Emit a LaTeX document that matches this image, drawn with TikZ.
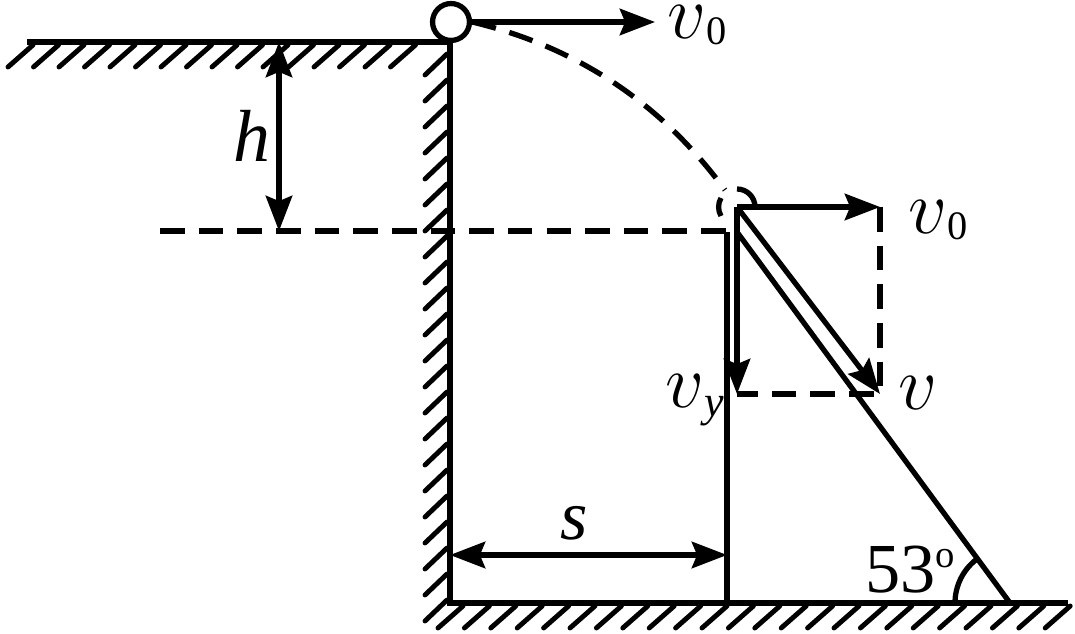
\documentclass[tikz,border=0pt]{standalone}
\usepackage{fontspec}
\setmainfont{Liberation Serif}
\usetikzlibrary{arrows.meta, positioning, calc}
\tikzset{
	heavy/.style={line width=3pt},
	hatch/.style={line width=2.8pt, line cap=round},
	vec/.style={heavy, -{Stealth[length=20pt,width=15pt,inset=3pt]}},
	dimen/.style={heavy, {Stealth[length=20pt,width=15pt,inset=3pt]}-{Stealth[length=20pt,width=15pt,inset=3pt]}},
	guide/.style={heavy, dash pattern=on 14pt off 8pt},
	label/.style={inner sep=0pt, anchor=base west, font=\fontsize{38}{38}\selectfont},
}
\newcommand{\vel}{\scalebox{1.75}{$v$}}
\newcommand{\zerosub}{\raisebox{-3pt}{\fontsize{23}{23}\selectfont 0}}
\begin{document}
\begin{tikzpicture}[x=0.02cm, y=-0.02cm]
	\useasboundingbox (0,0) rectangle (1075,634);
	% Define the points
	\coordinate (topleft) at (27,42);
	\coordinate (edge) at (450,42);
	\coordinate (corner) at (450,603);
	\coordinate (floorend) at (1068,603);
	\coordinate (foot) at (1010,603);
	\coordinate (postfoot) at (727,603);
	\coordinate (posttop) at (727,232);
	\coordinate (slopetop) at (737,232);
	\coordinate (hit) at (737,207);
	\coordinate (vxend) at (880,207);
	\coordinate (vend) at (880,394);
	\coordinate (vyend) at (737,394);
	\coordinate (levelleft) at (160,231);
	\coordinate (levelright) at (737,231);
	\coordinate (htop) at (279,42);
	\coordinate (hbottom) at (279,231);
	\coordinate (sleft) at (450,555);
	\coordinate (sright) at (727,555);
	\coordinate (launchend) at (655,22);

	% Define the ball
	\node (ball) [draw, circle, heavy, fill=white, minimum size=21pt, inner sep=0pt] at (451,22) {};

	% Hatching of the ground and the wall
	\foreach \x in {33,58.5,...,440}
		\draw[hatch] (\x,45) -- ++(-25,22);
	\foreach \y in {54,80,...,600}
		\draw[hatch] (447,\y) -- ++(-22,21);
	\foreach \x in {463,489.4,...,1071}
		\draw[hatch] (\x,606) -- ++(-25,22);

	% Ground, wall, post and slope
	\draw[heavy] (topleft) -- (edge) -- (corner) -- (floorend);
	\draw[heavy] (posttop) -- (postfoot);
	\draw[heavy] (slopetop) -- (foot);
	\draw[heavy] (955,603) arc (180:233:55);

	% Dashed lines
	\draw[guide] (levelleft) -- (levelright);
	\draw[guide] (ball.east) .. controls (590,50) and (670,115) .. (725,190);
	\draw[guide] (vxend) -- (vend) -- (vyend);
	\draw[heavy] (737,189) arc (270:360:18);
	\draw[heavy] (721,216) arc (150:210:18);

	% Connect the points with arrows
	\draw[vec] (ball.east) -- (launchend);
	\draw[vec] (hit) -- (vxend);
	\draw[vec] (hit) -- (vyend);
	\draw[vec] (hit) -- (vend);
	\draw[dimen] (htop) -- (hbottom);
	\draw[dimen] (sleft) -- (sright);

	% Labels
	\node (vzero) [label] at (667,39) {\vel\zerosub};
	\node (vzerob) [label] at (908,234) {\vel\zerosub};
	\node (vlabel) [label] at (898,410) {\vel};
	\node (vylabel) [label] at (665,408) {\vel\raisebox{-5pt}{\fontsize{25}{25}\selectfont\textit{y}}};
	\node (hlabel) [label, font=\fontsize{42}{42}\selectfont] at (233,162) {\textit{h}};
	\node (slabel) [label, font=\fontsize{40}{40}\selectfont] at (560,540) {\textit{s}};
	\node (anglelabel) [label, font=\fontsize{40}{40}\selectfont] at (865,592) {53\raisebox{14pt}{\fontsize{22}{22}\selectfont o}};
\end{tikzpicture}
\end{document}
